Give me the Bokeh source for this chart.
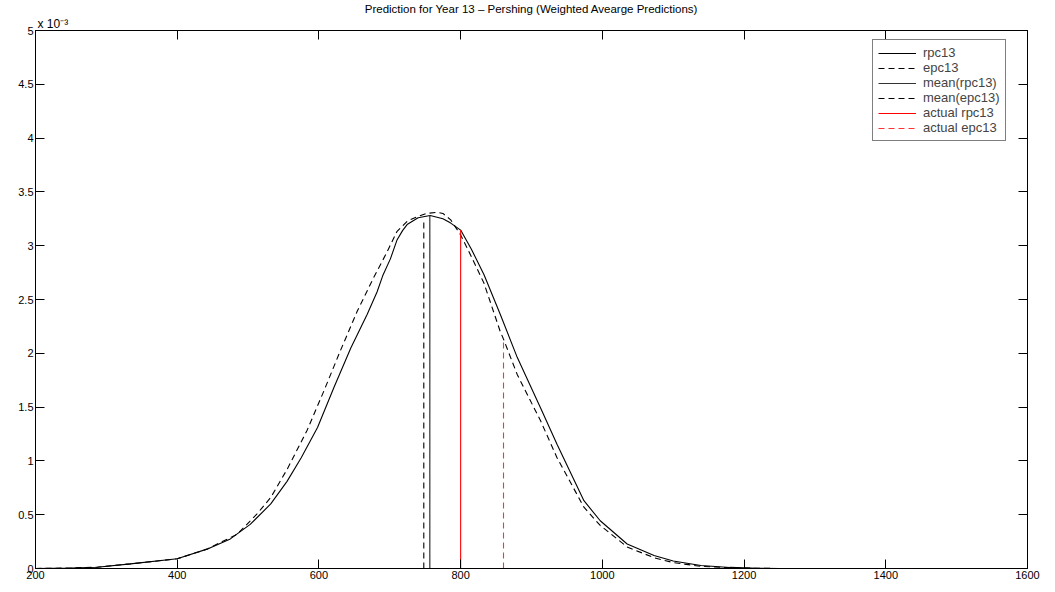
from bokeh.plotting import figure
from bokeh.models import Range1d, LinearAxis, FixedTicker, Legend, LegendItem, Title
from bokeh.embed import file_html
from bokeh.resources import INLINE

# values in units of 1e-3
rpc13_x = [200, 250, 287, 334, 400, 442, 475, 503, 532, 555, 575, 598, 621, 645, 668, 682,
           690, 701, 710, 718, 725, 740, 757, 775, 786, 800, 815, 833, 856, 880, 913, 936,
           974, 997, 1035, 1073, 1100, 1139, 1180, 1220, 1250]
rpc13_y = [0.0, 0.005, 0.012, 0.043, 0.09, 0.18, 0.275, 0.41, 0.6, 0.81, 1.03, 1.31, 1.68,
           2.05, 2.36, 2.57, 2.72, 2.88, 3.05, 3.14, 3.20, 3.26, 3.28, 3.25, 3.21, 3.145,
           2.97, 2.73, 2.36, 1.96, 1.49, 1.155, 0.63, 0.444, 0.228, 0.12, 0.07, 0.028,
           0.01, 0.003, 0.0]

epc13_x = [200, 250, 287, 334, 400, 442, 485, 513, 532, 555, 583, 607, 630, 654, 677, 696,
           710, 725, 739, 752, 767, 775, 786, 800, 815, 833, 856, 860, 880, 913, 936, 974,
           997, 1035, 1073, 1100, 1139, 1180, 1220, 1250]
epc13_y = [0.0, 0.005, 0.012, 0.043, 0.09, 0.18, 0.32, 0.51, 0.66, 0.92, 1.28, 1.65, 2.02,
           2.39, 2.70, 2.94, 3.13, 3.23, 3.27, 3.30, 3.31, 3.30, 3.24, 3.10, 2.90, 2.65,
           2.2, 2.14, 1.8, 1.37, 1.03, 0.57, 0.4, 0.2, 0.1, 0.055, 0.02, 0.007, 0.002, 0.0]

mean_rpc13 = 756.5
mean_rpc13_h = 3.28
mean_epc13 = 748
mean_epc13_h = 3.22
actual_rpc13 = 800
actual_rpc13_h = 3.145
actual_epc13 = 860.5
actual_epc13_h = 2.14

x_ticks = [200, 400, 600, 800, 1000, 1200, 1400, 1600]
y_ticks = [0, 0.5, 1, 1.5, 2, 2.5, 3, 3.5, 4, 4.5, 5]
y_tick_labels = {0: "0", 0.5: "0.5", 1: "1", 1.5: "1.5", 2: "2", 2.5: "2.5", 3: "3",
                 3.5: "3.5", 4: "4", 4.5: "4.5", 5: "5"}

FONT = "Liberation Sans"

p = figure(width=1055, height=592, output_backend="svg", toolbar_location=None,
           x_range=Range1d(200, 1600), y_range=Range1d(0, 5),
           min_border_left=35, min_border_right=28, min_border_top=28, min_border_bottom=24,
           x_axis_location=None, y_axis_location=None, title=None)
p.grid.visible = False
p.outline_line_color = "black"
p.outline_line_width = 1
p.background_fill_color = "white"
p.border_fill_color = "white"


def make_axis(ticks, labels=True, overrides=None):
    ax = LinearAxis(ticker=FixedTicker(ticks=ticks))
    ax.major_tick_in = 9
    ax.major_tick_out = 0
    ax.minor_tick_in = 0
    ax.minor_tick_out = 0
    ax.axis_line_color = "black"
    ax.major_tick_line_color = "black"
    ax.major_label_text_font = FONT
    ax.major_label_text_font_size = "11px"
    ax.major_label_text_color = "black"
    ax.major_label_standoff = 2
    if overrides:
        ax.major_label_overrides = overrides
    if not labels:
        ax.major_label_overrides = {t: "" for t in ticks}
        ax.major_label_standoff = 0
    return ax


p.add_layout(make_axis(x_ticks), "below")
p.add_layout(make_axis(y_ticks, overrides=y_tick_labels), "left")
p.add_layout(make_axis(y_ticks, labels=False), "right")
p.add_layout(make_axis(x_ticks, labels=False), "above")

exp_title = Title(text="x 10\u207b\u00b3", align="left", offset=2, standoff=0,
                  text_font=FONT, text_font_size="12px", text_font_style="normal",
                  text_color="black")
p.add_layout(exp_title, "above")
main_title = Title(text="Prediction for Year 13 \u2013 Pershing (Weighted Avearge Predictions)",
                   align="center", standoff=0, text_font=FONT, text_font_size="11.5px",
                   text_font_style="normal", text_color="black")
p.add_layout(main_title, "above")

r1 = p.line(rpc13_x, rpc13_y, line_color="black", line_width=1.1)
r2 = p.line(epc13_x, epc13_y, line_color="black", line_width=1.1, line_dash="6 4")
r3 = p.line([mean_rpc13, mean_rpc13], [0, mean_rpc13_h], line_color="#333333", line_width=1.2)
r4 = p.line([mean_epc13, mean_epc13], [0, mean_epc13_h], line_color="black", line_width=1.1,
            line_dash="6 4")
r5 = p.line([actual_rpc13, actual_rpc13], [0, actual_rpc13_h], line_color="red", line_width=1.1)
r6 = p.line([actual_epc13, actual_epc13], [0, actual_epc13_h], line_color="#ff3333",
            line_width=1.1, line_dash="6 4")

legend = Legend(items=[
    LegendItem(label="rpc13", renderers=[r1]),
    LegendItem(label="epc13", renderers=[r2]),
    LegendItem(label="mean(rpc13)", renderers=[r3]),
    LegendItem(label="mean(epc13)", renderers=[r4]),
    LegendItem(label="actual rpc13", renderers=[r5]),
    LegendItem(label="actual epc13", renderers=[r6]),
], location=(837, 427))
legend.label_text_font = FONT
legend.label_text_font_size = "13px"
legend.label_height = 14
legend.glyph_height = 14
legend.glyph_width = 38
legend.spacing = 0
legend.padding = 5
legend.margin = 0
legend.label_standoff = 7
legend.border_line_color = "black"
legend.border_line_width = 1
legend.background_fill_alpha = 1
p.add_layout(legend, "center")

open("out.html", "w").write(file_html(p, INLINE))
